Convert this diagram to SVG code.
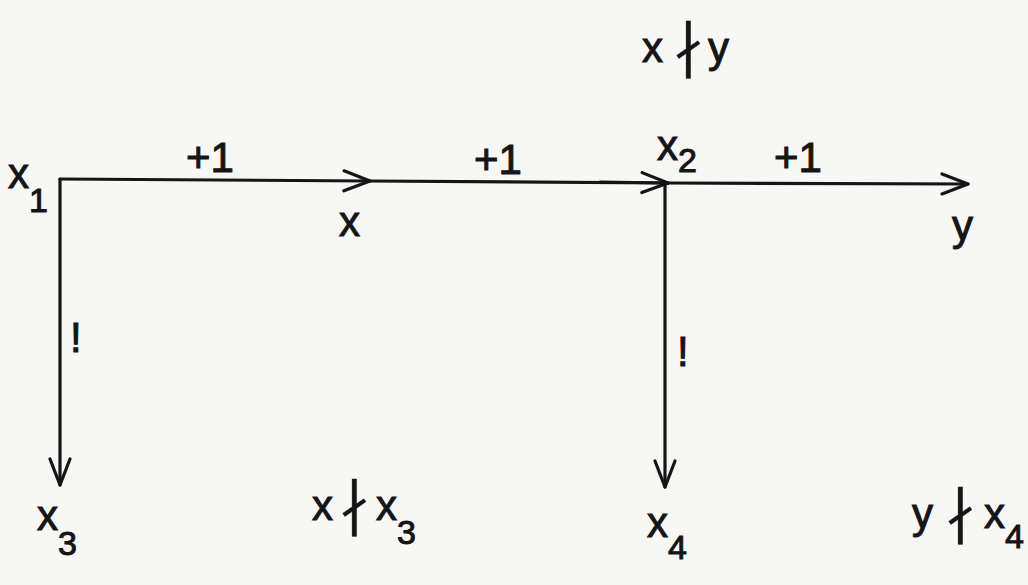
<svg xmlns="http://www.w3.org/2000/svg" width="1028" height="585" viewBox="0 0 1028 585">
<defs>
<style>
.t{font-family:"Liberation Sans","DejaVu Sans",sans-serif;fill:#151515;font-size:42px;stroke:#151515;stroke-width:1}
.s{font-size:34px}
.b{font-size:58px;stroke-width:0.4}
.e{stroke:#151515;stroke-width:3.2;fill:none;stroke-linecap:round;stroke-linejoin:round}
</style>
<marker id="ah" viewBox="0 0 30 24" refX="28" refY="12" markerWidth="30" markerHeight="24" markerUnits="userSpaceOnUse" orient="auto">
<path d="M2 2 L28 12 L2 22" fill="none" stroke="#151515" stroke-width="3.2" stroke-linecap="round" stroke-linejoin="round"/>
</marker>
</defs>
<rect width="1028" height="585" fill="#f7f7f5"/>
<g id="connectors">
<path class="e" d="M60 179 L370 181" marker-end="url(#ah)"/>
<path class="e" d="M370 181 L668 183"/>
<path class="e" d="M600 182 L668 183" marker-end="url(#ah)"/>
<path class="e" d="M668 183 L968 184" marker-end="url(#ah)"/>
<path class="e" d="M60 179 L60 485" marker-end="url(#ah)"/>
<path class="e" d="M665 183 L665 487" marker-end="url(#ah)"/>
<text class="t" x="186" y="172">+1</text>
<text class="t" x="474" y="174">+1</text>
<text class="t" x="774" y="172">+1</text>
<text class="t" x="70" y="352">!</text>
<text class="t" x="677" y="366">!</text>
</g>
<g id="node-x1"><text class="t" x="8" y="188">x<tspan dy="24" class="s">1</tspan></text></g>
<g id="node-x"><text class="t" x="339" y="236">x</text></g>
<g id="node-x2"><text class="t" x="657" y="160">x<tspan dy="12" class="s">2</tspan></text></g>
<g id="node-y"><text class="t" x="952" y="240">y</text></g>
<g id="node-x3"><text class="t" x="37" y="530">x<tspan dy="25" class="s">3</tspan></text></g>
<g id="node-x4"><text class="t" x="647" y="537">x<tspan dy="22" class="s">4</tspan></text></g>
<g id="rel-x-y"><text class="t" x="642" y="62">x<tspan class="b" x="674" dy="4">∤</tspan><tspan x="708" dy="-4">y</tspan></text></g>
<g id="rel-x-x3"><text class="t" x="312" y="520">x<tspan class="b" x="340" dy="4">∤</tspan><tspan x="376" dy="-4">x</tspan><tspan dy="24" class="s">3</tspan></text></g>
<g id="rel-y-x4"><text class="t" x="912" y="528">y<tspan class="b" x="946" dy="4">∤</tspan><tspan x="984" dy="-4">x</tspan><tspan dy="20" class="s">4</tspan></text></g>
</svg>
